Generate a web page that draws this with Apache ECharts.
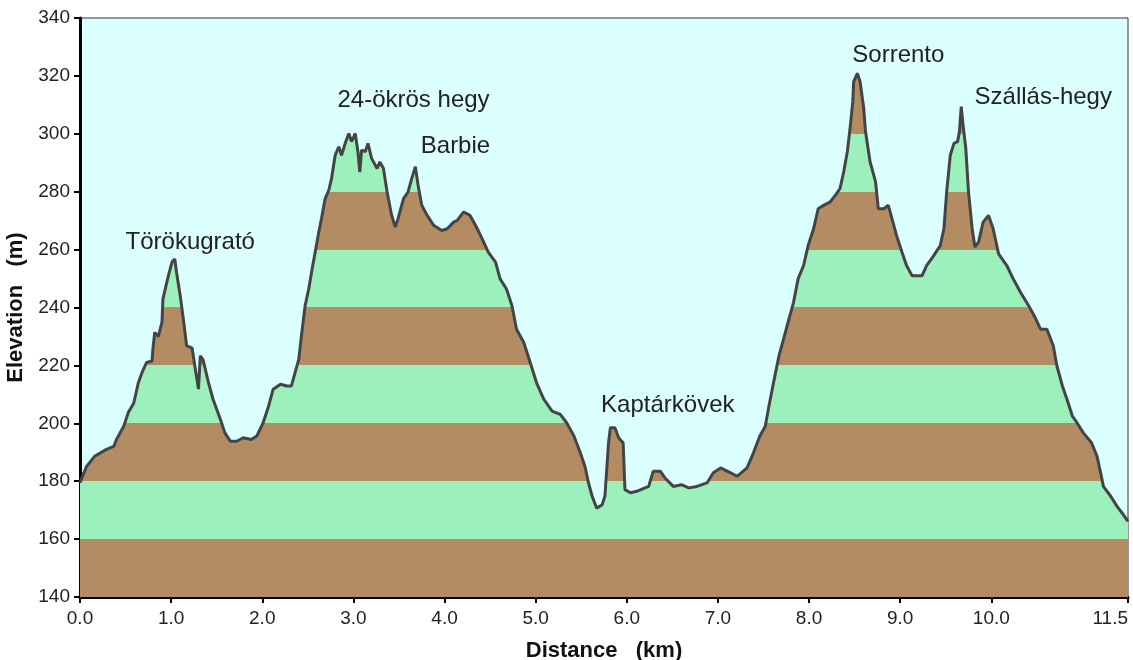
<!DOCTYPE html>
<html>
<head>
<meta charset="utf-8">
<title>Elevation profile</title>
<script src="https://cdn.jsdelivr.net/npm/echarts@6/dist/echarts.min.js"></script>
<style>
  html, body { margin: 0; padding: 0; background: #fff; }
  #chart { width: 1133px; height: 660px; }
</style>
</head>
<body>
<div id="chart"></div>
<script>
// distance along the route (km)
const distance = [
  0.00, 0.07, 0.16, 0.29, 0.37, 0.40, 0.48, 0.53, 0.59, 0.64, 0.68, 0.73, 0.79, 0.80, 0.82, 0.86,
  0.90, 0.91, 0.97, 1.01, 1.04, 1.06, 1.10, 1.13, 1.17, 1.23, 1.26, 1.30, 1.32, 1.35, 1.41, 1.46,
  1.54, 1.59, 1.65, 1.72, 1.79, 1.88, 1.94, 2.01, 2.07, 2.12, 2.20, 2.27, 2.32, 2.36, 2.40, 2.43,
  2.47, 2.51, 2.54, 2.58, 2.62, 2.65, 2.69, 2.73, 2.76, 2.80, 2.84, 2.87, 2.91, 2.95, 2.98, 3.02,
  3.05, 3.07, 3.09, 3.13, 3.16, 3.20, 3.26, 3.29, 3.33, 3.37, 3.42, 3.46, 3.49, 3.55, 3.60, 3.64,
  3.68, 3.71, 3.75, 3.81, 3.88, 3.97, 4.03, 4.10, 4.14, 4.21, 4.28, 4.35, 4.43, 4.48, 4.56, 4.61,
  4.68, 4.74, 4.79, 4.87, 4.94, 5.01, 5.09, 5.18, 5.27, 5.34, 5.42, 5.49, 5.54, 5.58, 5.62, 5.67,
  5.73, 5.76, 5.80, 5.82, 5.87, 5.91, 5.96, 5.98, 6.04, 6.11, 6.24, 6.29, 6.37, 6.42, 6.51, 6.60,
  6.68, 6.77, 6.88, 6.95, 7.03, 7.14, 7.21, 7.32, 7.39, 7.46, 7.52, 7.56, 7.61, 7.67, 7.72, 7.77,
  7.83, 7.88, 7.94, 7.99, 8.05, 8.10, 8.16, 8.23, 8.29, 8.34, 8.38, 8.42, 8.45, 8.48, 8.49, 8.53,
  8.56, 8.60, 8.62, 8.67, 8.73, 8.76, 8.82, 8.87, 8.91, 8.96, 9.02, 9.07, 9.13, 9.24, 9.29, 9.37,
  9.44, 9.48, 9.51, 9.55, 9.59, 9.63, 9.65, 9.67, 9.69, 9.72, 9.75, 9.79, 9.82, 9.86, 9.91, 9.97,
  10.02, 10.08, 10.17, 10.24, 10.32, 10.41, 10.48, 10.54, 10.61, 10.68, 10.72, 10.78, 10.83, 10.89,
  10.94, 11.01, 11.10, 11.16, 11.20, 11.23, 11.31, 11.38, 11.45, 11.50
];

// elevation (m)
const elevation = [
  179.5, 185, 188.6, 191, 192, 194.4, 199, 203.7, 207, 214, 217.5, 221, 221.5, 225.6, 231.4, 230,
  235, 243, 251, 255.7, 256.8, 252, 244, 237, 226.8, 226, 219.8, 211.8, 223.3, 222, 214, 208.3,
  201.4, 196.7, 193.8, 193.8, 195, 194.4, 195.6, 200.2, 206, 211.8, 213.5, 212.9, 212.9, 217.5, 222, 230.2,
  240.6, 246.4, 252, 259, 266, 270.7, 277.6, 280.5, 284.5, 292.6, 295.5, 292.6, 296.7, 300.1, 297.3, 300.1,
  293.8, 286.8, 294.4, 293.8, 296.7, 291.5, 288, 290.3, 288, 279.9, 271.8, 267.8, 270.7, 277.6, 279.9, 284.5,
  288.6, 282.2, 275.3, 271.8, 268.4, 266.6, 267.2, 269.5, 270.1, 273, 271.8, 267.8, 262.6, 259.1, 255.7, 249.9,
  246.4, 240.6, 232.5, 227.9, 221, 214, 208.3, 204.2, 203.1, 200.2, 195.6, 189.8, 185.2, 179.4, 174.8, 170.7,
  171.9, 174.8, 193.3, 198.5, 198.5, 195, 193.3, 177.1, 176, 176.5, 178.2, 183.4, 183.4, 181.1, 178.2, 178.8,
  177.7, 178.2, 179.4, 182.9, 184.6, 182.9, 181.7, 184.6, 189.8, 195.6, 199, 206, 214, 223.3, 229.1, 234.9,
  241.8, 249.9, 254.5, 261.4, 267.2, 274.1, 275.3, 276.4, 278.8, 281.1, 286.8, 293.8, 301.9, 311.1, 318, 320.9,
  318, 308.8, 300.7, 290.3, 283.4, 274.1, 274.1, 275.3, 270.7, 264.9, 259.1, 254.5, 251, 251, 254.5, 258,
  261.4, 267.2, 279.9, 292.6, 296.7, 297.3, 300.7, 309.4, 303, 295, 279.9, 267.2, 260.9, 262.6, 269.5, 271.8,
  267.2, 258.5, 254.5, 249.9, 245.3, 240.6, 236.6, 232.5, 232.5, 226.8, 219.8, 212.9, 208.3, 202.5,
  200.2, 196.7, 193.3, 188.6, 182.9, 178.2, 174.8, 171.3, 168.4, 166.1
];

// x-axis ticks (km)
const xTicks = [0, 1, 2, 3, 4, 5, 6, 7, 8, 9, 10, 11.5];

// named places [distance km, elevation m of the label centre]
const placeNames = ['Törökugrató', '24-ökrös hegy', 'Barbie', 'Kaptárkövek', 'Sorrento', 'Szállás-hegy'];
const placeDist = [1.21, 3.66, 4.12, 6.45, 8.98, 10.57];
const placeElev = [262.4, 311.6, 295.6, 206.2, 327.2, 312.6];

const BROWN = '#b48c64';
const GREEN = '#9bf0bc';
const SKY = '#dcffff';
const FONT = '"Liberation Sans", Arial, sans-serif';

// alternating 20 m bands from 140 to 340
const bands = [];
for (let v = 140; v < 340; v += 20) {
  bands.push({ gte: v, lt: v + 20, color: ((v - 140) / 20) % 2 === 0 ? BROWN : GREEN });
}

const chart = echarts.init(document.getElementById('chart'));

const option = {
  backgroundColor: '#fff',
  animation: false,
  textStyle: { fontFamily: FONT },
  grid: {
    left: 80, right: 5, top: 18, bottom: 63,
    containLabel: false,
    outerBoundsMode: 'none',
    show: true,
    backgroundColor: SKY,
    borderColor: '#333',
    borderWidth: 1
  },
  visualMap: {
    type: 'piecewise',
    show: false,
    dimension: 1,
    seriesIndex: 0,
    pieces: bands,
    outOfRange: { color: SKY }
  },
  xAxis: {
    type: 'value',
    min: 0,
    max: 11.5,
    name: 'Distance   (km)',
    nameLocation: 'middle',
    nameGap: 43,
    nameTextStyle: { fontSize: 22, fontWeight: 'bold', color: '#111', fontFamily: FONT },
    axisLine: { lineStyle: { color: '#000', width: 3 } },
    axisTick: { customValues: xTicks, length: 6, lineStyle: { color: '#000', width: 2 } },
    axisLabel: {
      customValues: xTicks,
      formatter: v => v.toFixed(1),
      alignMaxLabel: 'right',
      fontSize: 19,
      color: '#222',
      margin: 12,
      fontFamily: FONT
    },
    splitLine: { show: false }
  },
  yAxis: {
    type: 'value',
    min: 140,
    max: 340,
    interval: 20,
    name: 'Elevation   (m)',
    nameLocation: 'middle',
    nameGap: 50,
    nameTextStyle: { fontSize: 22, fontWeight: 'bold', color: '#111', fontFamily: FONT },
    axisLine: { show: true, lineStyle: { color: '#000', width: 3 } },
    axisTick: { show: true, length: 6, lineStyle: { color: '#000', width: 2 } },
    axisLabel: { fontSize: 19, color: '#222', margin: 10, fontFamily: FONT },
    splitLine: { show: false }
  },
  series: [
    {
      type: 'line',
      data: distance.map((d, i) => [d, elevation[i]]),
      showSymbol: false,
      symbol: 'none',
      lineStyle: { color: '#444', width: 3 },
      areaStyle: { opacity: 1 },
      markPoint: {
        symbol: 'circle',
        symbolSize: 1,
        itemStyle: { color: 'rgba(0,0,0,0)' },
        label: {
          show: true,
          position: 'inside',
          formatter: '{b}',
          color: '#222',
          fontSize: 24,
          fontFamily: FONT
        },
        data: placeNames.map((n, i) => ({ name: n, coord: [placeDist[i], placeElev[i]] }))
      }
    }
  ]
};

chart.setOption(option);
</script>
</body>
</html>
